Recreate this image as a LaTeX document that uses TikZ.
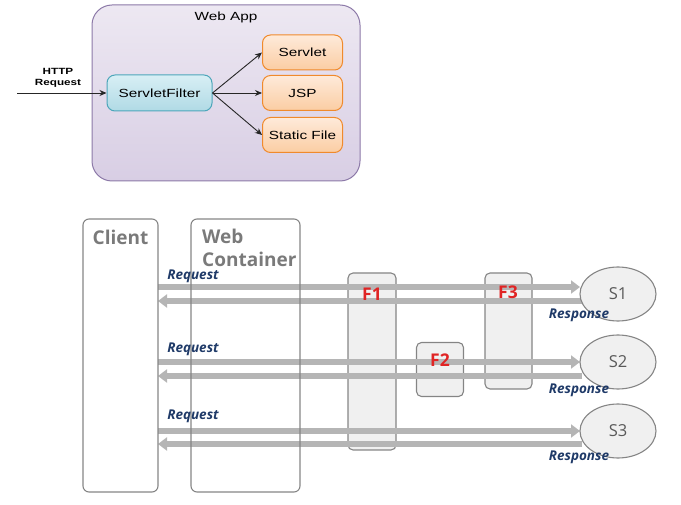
\documentclass[tikz,border=0pt]{standalone}
\usepackage{fontspec}
\setmainfont{Liberation Sans}
\newfontfamily\widefont[FakeStretch=1.3]{Liberation Sans}
\newfontfamily\kofont{Open Sans}
\usetikzlibrary{arrows.meta,shapes.geometric}
\definecolor{appborder}{HTML}{8C79A8}
\definecolor{apptop}{HTML}{EDE8F2}
\definecolor{appbot}{HTML}{D8CEE4}
\definecolor{cyanborder}{HTML}{4DA6BA}
\definecolor{cyantop}{HTML}{D8EFF5}
\definecolor{cyanbot}{HTML}{B0DAE5}
\definecolor{orborder}{HTML}{F08A2C}
\definecolor{ortop}{HTML}{FEEADA}
\definecolor{orbot}{HTML}{FBCDA3}
\definecolor{flowgray}{HTML}{B5B5B5}
\definecolor{boxgray}{HTML}{858585}
\definecolor{fillgray}{HTML}{F0F0F0}
\definecolor{titlegray}{HTML}{7A7A7A}
\definecolor{labelblue}{HTML}{1F3A68}
\definecolor{fred}{HTML}{E02424}
\tikzset{
  appbox/.style={draw=appborder, line width=1pt, rounded corners=20pt, top color=apptop, bottom color=appbot, minimum width=268pt, minimum height=176pt},
  filterbox/.style={draw=cyanborder, line width=1pt, rounded corners=8pt, top color=cyantop, bottom color=cyanbot, minimum width=105pt, minimum height=36pt, font=\widefont\fontsize{11.8}{13}\selectfont},
  targetbox/.style={draw=orborder, line width=1pt, rounded corners=8pt, top color=ortop, bottom color=orbot, minimum width=80pt, minimum height=35pt, font=\widefont\fontsize{11.8}{13}\selectfont},
  thinarrow/.style={-{Stealth[length=7pt,width=6pt]}, line width=0.9pt, black!85},
  lanebox/.style={draw=boxgray, line width=1.1pt, rounded corners=6pt},
  filtbox/.style={draw=boxgray, line width=1.1pt, rounded corners=5pt, fill=fillgray},
  servbox/.style={draw=boxgray, line width=1.1pt, ellipse, fill=fillgray, minimum width=76pt, minimum height=54pt, inner sep=0pt, font=\kofont\fontsize{16.5}{18}\selectfont, text=black!65},
  flowarrow/.style={-{Triangle[length=9pt,width=13pt]}, line width=6pt, flowgray},
  flowlabel/.style={font=\kofont\bfseries\itshape\fontsize{13.5}{15}\selectfont, text=labelblue, inner sep=0pt},
  flabel/.style={font=\kofont\bfseries\fontsize{17.5}{19}\selectfont, text=fred, inner sep=0pt},
  lanetitle/.style={font=\kofont\bfseries\fontsize{19}{23}\selectfont, text=titlegray, inner sep=0pt}
}
\begin{document}
\begin{tikzpicture}[x=1pt,y=-1pt]
\useasboundingbox (0,0) rectangle (681,505);
% ---------- top diagram ----------
\node[appbox] (app) at (226,93) {};
\node[font=\widefont\fontsize{11.8}{13}\selectfont] (apptitle) at (226,17) {Web App};
\node[filterbox] (filter) at (159.5,93) {ServletFilter};
\node[targetbox] (servlet) at (302.5,52.5) {Servlet};
\node[targetbox] (jsp) at (302.5,93) {JSP};
\node[targetbox] (static) at (302.5,135) {Static File};
\node[font=\widefont\bfseries\fontsize{9}{11}\selectfont, align=center] (http) at (58,78) {HTTP\\Request};
\coordinate (httpstart) at (17,93);
\draw[thinarrow] (httpstart) -- (filter.west);
\draw[thinarrow] (filter.east) -- (servlet.west);
\draw[thinarrow] (filter.east) -- (jsp.west);
\draw[thinarrow] (filter.east) -- (static.west);
% ---------- bottom diagram ----------
\node[filtbox, minimum width=48pt, minimum height=177pt] (f1) at (372,361.5) {};
\node[filtbox, minimum width=47pt, minimum height=54pt] (f2) at (440,369.5) {};
\node[filtbox, minimum width=47pt, minimum height=116pt] (f3) at (508.5,331) {};
% lane coordinates
\coordinate (q1a) at (158,287); \coordinate (q1b) at (580,287);
\coordinate (p1a) at (158,301); \coordinate (p1b) at (582,301);
\coordinate (q2a) at (158,362); \coordinate (q2b) at (580,362);
\coordinate (p2a) at (158,376); \coordinate (p2b) at (582,376);
\coordinate (q3a) at (158,431); \coordinate (q3b) at (580,431);
\coordinate (p3a) at (158,444); \coordinate (p3b) at (582,444);
\draw[flowarrow] (q1a) -- (q1b);
\draw[flowarrow] (p1b) -- (p1a);
\draw[flowarrow] (q2a) -- (q2b);
\draw[flowarrow] (p2b) -- (p2a);
\draw[flowarrow] (q3a) -- (q3b);
\draw[flowarrow] (p3b) -- (p3a);
\node[lanebox, minimum width=75pt, minimum height=273pt] (client) at (120.5,355.5) {};
\node[lanebox, minimum width=109pt, minimum height=273pt] (container) at (245.5,355.5) {};
\node[lanetitle] (clienttitle) at (120.5,237) {Client};
\node[lanetitle, anchor=north west, align=left] (containertitle) at (202,229) {Web\\Container};
\node[servbox] (s1) at (618,294) {S1};
\node[servbox] (s2) at (618,362) {S2};
\node[servbox] (s3) at (618,431) {S3};
\node[flabel] (f1t) at (372,294) {F1};
\node[flabel] (f2t) at (440,360) {F2};
\node[flabel] (f3t) at (508,292) {F3};
\node[flowlabel] (rq1) at (193,276) {Request};
\node[flowlabel] (rq2) at (193,349) {Request};
\node[flowlabel] (rq3) at (193,416) {Request};
\node[flowlabel] (rs1) at (579,315) {Response};
\node[flowlabel] (rs2) at (579,390) {Response};
\node[flowlabel] (rs3) at (579,457) {Response};
\end{tikzpicture}
\end{document}
